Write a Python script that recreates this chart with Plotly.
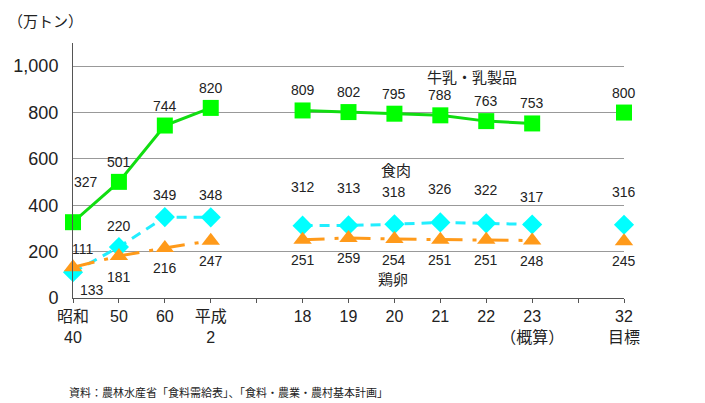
import plotly.graph_objects as go

# ---- data ----
categories = ["昭和<br>40", "50", "60", "平成<br>2", "18", "19", "20", "21", "22", "23<br>（概算）", "32<br>目標"]
slots = [0, 1, 2, 3, 5, 6, 7, 8, 9, 10, 12]   # axis slot of each category (gaps between eras)
milk = [327, 501, 744, 820, 809, 802, 795, 788, 763, 753, 800]
meat = [111, 220, 349, 348, 312, 313, 318, 326, 322, 317, 316]
eggs = [133, 181, 216, 247, 251, 259, 254, 251, 251, 248, 245]
y_ticks = [0, 200, 400, 600, 800, 1000]

# label offsets (pixels) - styling only
milk_dy = [40, 20, 20, 20, 20, 20, 20, 20, 20, 20, 20]
milk_dx = [13, 0, 0, 0, 0, 0, 0, 0, 0, 0, 0]
meat_dy = [23, 21, 22, 22, 39, 37, 32, 33, 33, 28, 33]
meat_dx = [9, 0, 0, 0, 0, 0, 0, 0, 0, 0, 0]
eggs_dy = [-23, -21, -20, -20, -20, -20, -21, -20, -20, -20, -20]
eggs_dx = [19, 0, 0, 0, 0, 0, 0, 0, 0, 0, 0]

FONT = "Liberation Sans, Noto Sans CJK JP, sans-serif"
TXT = "#222222"

n_slots = max(slots) + 1
def full(vals):
    out = [None] * n_slots
    for s, v in zip(slots, vals):
        out[s] = v
    return out

fig = go.Figure()
series = [
    ("食肉", meat, "#22EEFF", "#00FFFF", "diamond", 15.5, "10px,7px"),
    ("鶏卵", eggs, "#FF9A1A", "#FF9A1A", "triangle-up", 16, "22px,10px,4px,10px"),
    ("牛乳・乳製品", milk, "#11DD11", "#00FF00", "square", 16, "solid"),
]
for name, vals, lc, mc, sym, ms, dash in series:
    fig.add_trace(go.Scatter(
        x=list(range(n_slots)), y=full(vals), mode="lines+markers", name=name,
        connectgaps=False, cliponaxis=False,
        line=dict(color=lc, width=3, dash=dash),
        marker=dict(symbol=sym, size=ms, color=mc, line=dict(width=0)),
        showlegend=False,
    ))

ann = []
for vals, dys, dxs in [(milk, milk_dy, milk_dx), (meat, meat_dy, meat_dx), (eggs, eggs_dy, eggs_dx)]:
    for s, v, dy, dx in zip(slots, vals, dys, dxs):
        ann.append(dict(x=s, y=v, xref="x", yref="y", text=str(v), showarrow=False,
                        xshift=dx, yshift=dy, xanchor="center", yanchor="middle",
                        font=dict(size=14, color=TXT, family=FONT)))

# series names
ann += [
    dict(x=8.69, y=950, xref="x", yref="y", text="牛乳・乳製品", showarrow=False,
         font=dict(size=15, color=TXT, family=FONT)),
    dict(x=7.03, y=552, xref="x", yref="y", text="食肉", showarrow=False,
         font=dict(size=15, color=TXT, family=FONT)),
    dict(x=6.97, y=81, xref="x", yref="y", text="鶏卵", showarrow=False,
         font=dict(size=15, color=TXT, family=FONT)),
    dict(x=-0.05, y=1.085, xref="paper", yref="paper", text="（万トン）", showarrow=False,
         xanchor="center", yanchor="middle", font=dict(size=15, color=TXT, family=FONT)),
    dict(x=12.89, y=-0.0745, xref="x", yref="paper", text="（年度）", showarrow=False,
         xanchor="center", yanchor="middle", font=dict(size=15, color=TXT, family=FONT)),
    dict(x=-0.011, y=-0.3725, xref="paper", yref="paper",
         text="資料：農林水産省「食料需給表」、「食料・農業・農村基本計画」", showarrow=False,
         xanchor="left", yanchor="middle", font=dict(size=11, color=TXT, family=FONT)),
]

tick_text = [""] * n_slots
for s, c in zip(slots, categories):
    tick_text[s] = c

fig.update_layout(
    width=705, height=403,
    margin=dict(l=73, r=81, t=43, b=105),
    paper_bgcolor="white", plot_bgcolor="white",
    font=dict(family=FONT, color=TXT),
    annotations=ann,
    xaxis=dict(range=[0, 12], tickvals=list(range(n_slots)), ticktext=tick_text,
               showgrid=False, zeroline=False, showline=True, linecolor="#555555", linewidth=1,
               ticks="outside", ticklen=4, tickcolor="#555555",
               tickfont=dict(size=16, color=TXT, family=FONT)),
    yaxis=dict(range=[0, 1100], tickvals=y_ticks, tickformat=",",
               showgrid=True, gridcolor="#999999", gridwidth=1, zeroline=False,
               showline=True, linecolor="#555555", linewidth=1, ticks="",
               ticklabelstandoff=10,
               tickfont=dict(size=18, color=TXT, family=FONT)),
)

fig.write_html("out.html")
